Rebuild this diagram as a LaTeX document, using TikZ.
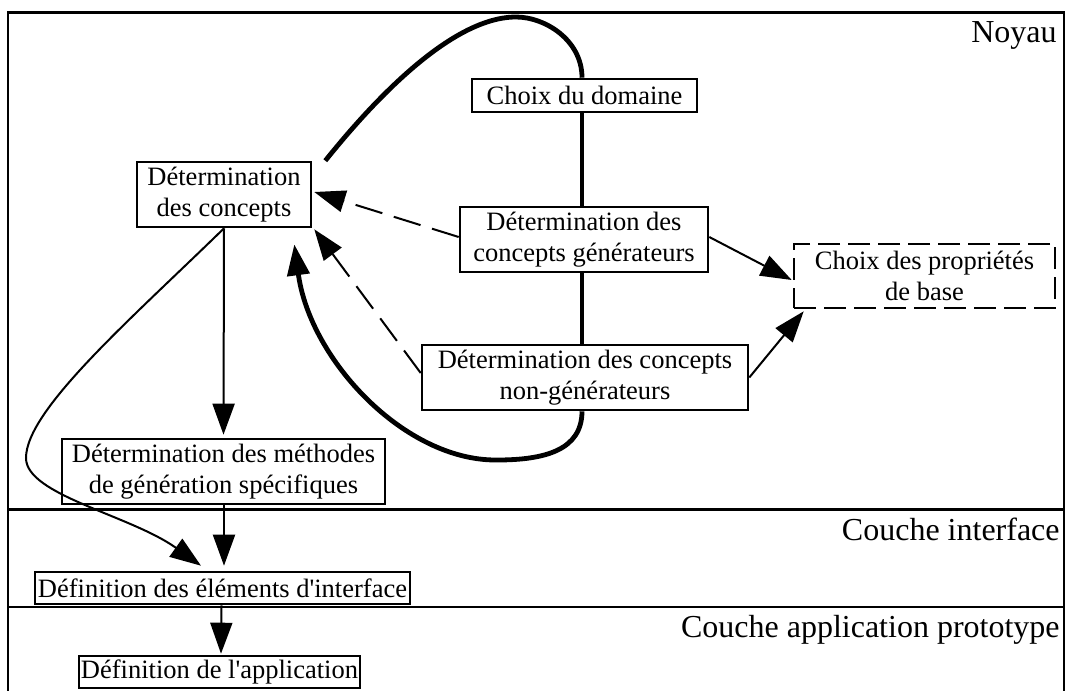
\documentclass[tikz,border=0pt]{standalone}
\usepackage{fontspec}
\setmainfont{Liberation Serif}[Ligatures=TeXOff]
\usetikzlibrary{arrows.meta,calc}
\begin{document}
\begin{tikzpicture}[x=0.5pt,y=-0.5pt,
  box/.style={draw, line width=1.3pt, fill=white, inner sep=0pt, align=center,
              font=\fontsize{13.25}{15.3}\selectfont},
  dbox/.style={box, dash pattern=on 11pt off 4pt},
  lbl/.style={anchor=base east, inner sep=0pt, font=\fontsize{16}{19}\selectfont},
  tip/.style={-{Triangle[length=15.5pt,width=11pt]}},
  thinline/.style={line width=1pt},
  thickline/.style={line width=2.4pt},
  dashline/.style={line width=1pt, dash pattern=on 14pt off 6pt},
  frame/.style={line width=1.3pt}
]
\useasboundingbox (0,0) rectangle (1066,691);

% frame and layers
\draw[frame] (8,700) -- (8,12.5) -- (1064,12.5) -- (1064,700);
\draw[frame] (8,509.5) -- (1064,509.5);
\draw[frame] (8,607) -- (1064,607);

\node[lbl] (noyau) at (1057,42) {Noyau};
\node[lbl] (ci) at (1060,540) {Couche interface};
\node[lbl] (cap) at (1060,637) {Couche application prototype};

% nodes
\node[box, minimum width=112.5pt, minimum height=16.5pt] (dom) at (584.5,95.5) {Choix du domaine};
\node[box, minimum width=87pt, minimum height=32.5pt] (dc) at (224,194.5) {Détermination\\des concepts};
\node[box, minimum width=124pt, minimum height=32.5pt] (gen) at (584,239.5) {Détermination des\\concepts générateurs};
\node[dbox, minimum width=130.5pt, minimum height=32pt] (props) at (924.5,276) {Choix des propriétés\\de base};
\node[box, minimum width=163pt, minimum height=32.5pt] (ng) at (585,377.5) {Détermination des concepts\\non-générateurs};
\node[box, minimum width=161.5pt, minimum height=32.5pt] (meth) at (223.5,471.5) {Détermination des méthodes\\de génération spécifiques};
\node[box, minimum width=187.5pt, minimum height=16pt] (elem) at (222.5,588) {Définition des éléments d'interface};
\node[box, minimum width=140.5pt, minimum height=16pt] (app) at (219.5,672) {Définition de l'application};

\coordinate (vx) at (582,0);

% thick cycle
\draw[thickline] ([xshift=6.5pt]dc.north east) .. controls (370,105) and (450,17) .. (516,17)
   .. controls (545,17) and (582,40) .. (dom.north -| vx);
\draw[thickline] (dom.south -| vx) -- (gen.north -| vx);
\draw[thickline] (gen.south -| vx) -- (ng.north -| vx);
\draw[thickline, tip] (ng.south -| vx) .. controls (582,450) and (545,460) .. (497,460)
   .. controls (405,461) and (310,360) .. ([xshift=-9pt,yshift=-8pt]dc.south east);

% dashed arrows
\draw[dashline, tip] ([yshift=1.25pt]gen.west) -- ([xshift=1pt,yshift=1.25pt]dc.east);
\draw[dashline, tip] ([yshift=2.25pt]ng.west) -- ([xshift=1pt,yshift=-0.5pt]dc.south east);

% thin arrows
\draw[thinline, tip] ([yshift=1.25pt]gen.east) -- ([xshift=-0.5pt,yshift=-2pt]props.west);
\draw[thinline, tip] (ng.east) -- ([xshift=5.5pt,yshift=-1pt]props.south west);
\draw[thinline, tip] (dc.south) -- ([yshift=1.5pt]meth.north);
\draw[thinline, tip] ([xshift=0.25pt]meth.south) -- ([xshift=0.75pt,yshift=2.5pt]elem.north);
\draw[thinline, tip] ([xshift=-0.5pt]elem.south) -- ([xshift=0.75pt,yshift=0.5pt]app.north);
\draw[thinline, tip] (dc.south) .. controls (130,320) and (26,410) .. (26,458)
   .. controls (26,495) and (130,515) .. ([xshift=-10.75pt,yshift=2.5pt]elem.north);
\end{tikzpicture}
\end{document}
